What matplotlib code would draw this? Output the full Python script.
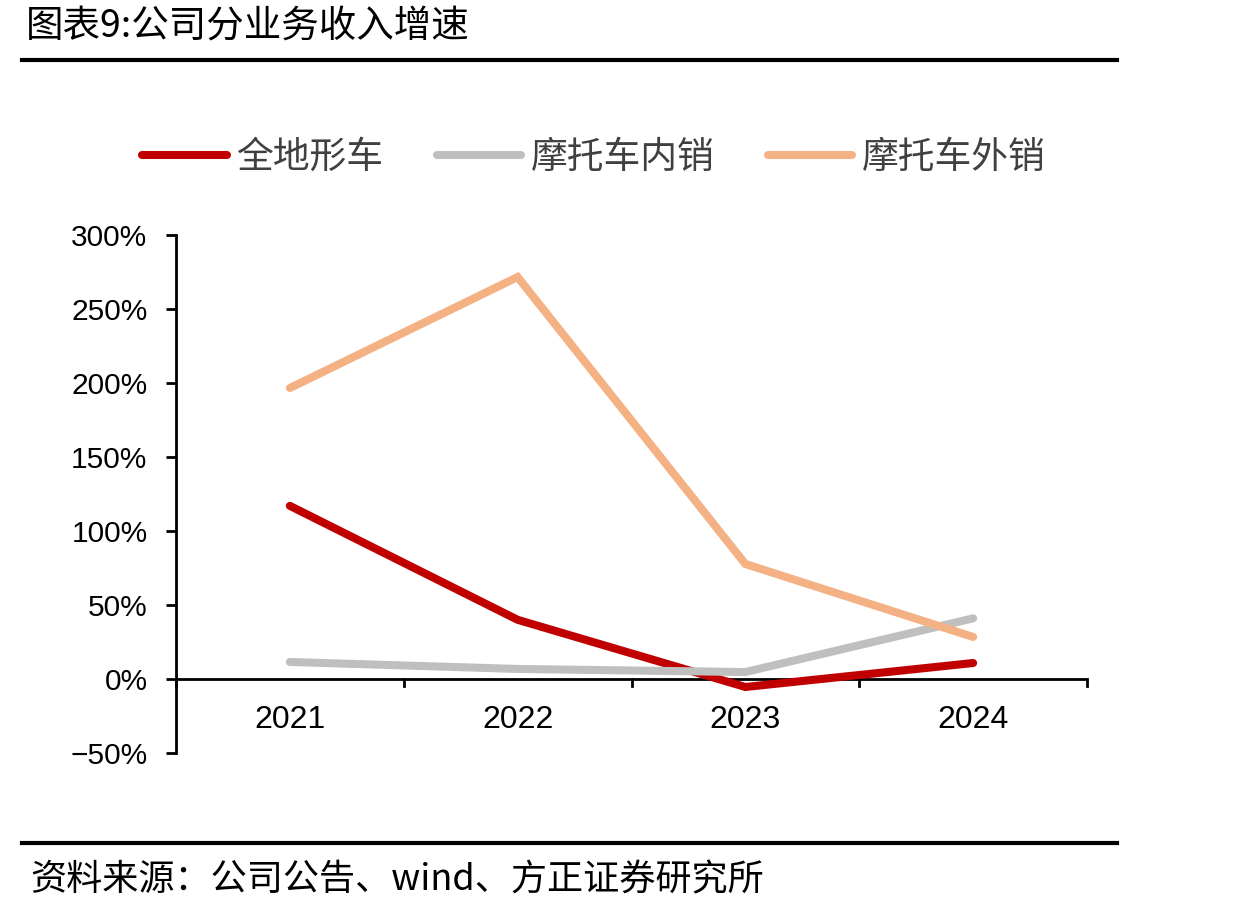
import matplotlib
matplotlib.use("Agg")
import matplotlib.pyplot as plt
from matplotlib.lines import Line2D

plt.rcParams['font.family'] = ['Liberation Sans', 'Noto Sans CJK SC', 'DejaVu Sans']

years = ['2021', '2022', '2023', '2024']
series_names = ['全地形车', '摩托车内销', '摩托车外销']
atv = [117, 40, -5.4, 10.8]
moto_domestic = [11.5, 6.8, 4.7, 41]
moto_export = [196.6, 271.6, 77.7, 28.4]
colors = ['#C00000', '#BFBFBF', '#F4B183']
yticks = [-50, 0, 50, 100, 150, 200, 250, 300]

fig = plt.figure(figsize=(12.45, 9.15), dpi=100)
ax = fig.add_axes([176/1245, 1-753/915, (1087-176)/1245, (753-235)/915])

x = list(range(len(years)))
for vals, c, name in zip([atv, moto_domestic, moto_export], colors, series_names):
    ax.plot(x, vals, color=c, lw=5.8, solid_capstyle='round', solid_joinstyle='miter', label=name, zorder=3)

ax.set_ylim(-50, 300)
ax.set_xlim(-0.5, 3.5)
ax.set_yticks(yticks)
ax.set_yticklabels([f'{v}%'.replace('-', '−') for v in yticks], fontsize=21.5)
ax.tick_params(axis='y', direction='out', length=7.5, width=2, pad=13)

for s in ['top', 'right', 'bottom']:
    ax.spines[s].set_visible(False)
ax.spines['left'].set_linewidth(2)
ax.axhline(0, color='black', lw=2, zorder=2)
ax.set_xticks([])
for b in [-0.5, 0.5, 1.5, 2.5, 3.5]:
    ax.plot([b, b], [0, -5], color='black', lw=2, clip_on=False, zorder=2)
for xi, lab in zip(x, years):
    ax.text(xi, -28, lab, ha='center', va='center', fontsize=23)

leg_handles = [Line2D([0], [0], color=c, lw=5.8, solid_capstyle='round') for c in colors]
fig.legend(leg_handles, series_names, loc='center', bbox_to_anchor=(0.477, 1-158/915),
           ncol=3, frameon=False, fontsize=26.5, handlelength=2.3, handletextpad=0.25,
           columnspacing=1.45, labelcolor='#404040')

fig.text(26/1245, 1-27/915, '图表9:公司分业务收入增速', fontsize=27, va='center', ha='left',
         family=['Noto Sans CJK SC', 'DejaVu Sans'])
fig.add_artist(Line2D([22/1245, 1117/1245], [1-60/915, 1-60/915], color='black', lw=3))
fig.add_artist(Line2D([22/1245, 1117/1245], [1-843/915, 1-843/915], color='black', lw=3))
fig.text(30/1245, 1-880/915, '资料来源：公司公告、wind、方正证券研究所', fontsize=26, va='center', ha='left',
         family=['Noto Sans CJK SC', 'DejaVu Sans'])

fig.savefig('out.png', dpi=100)
